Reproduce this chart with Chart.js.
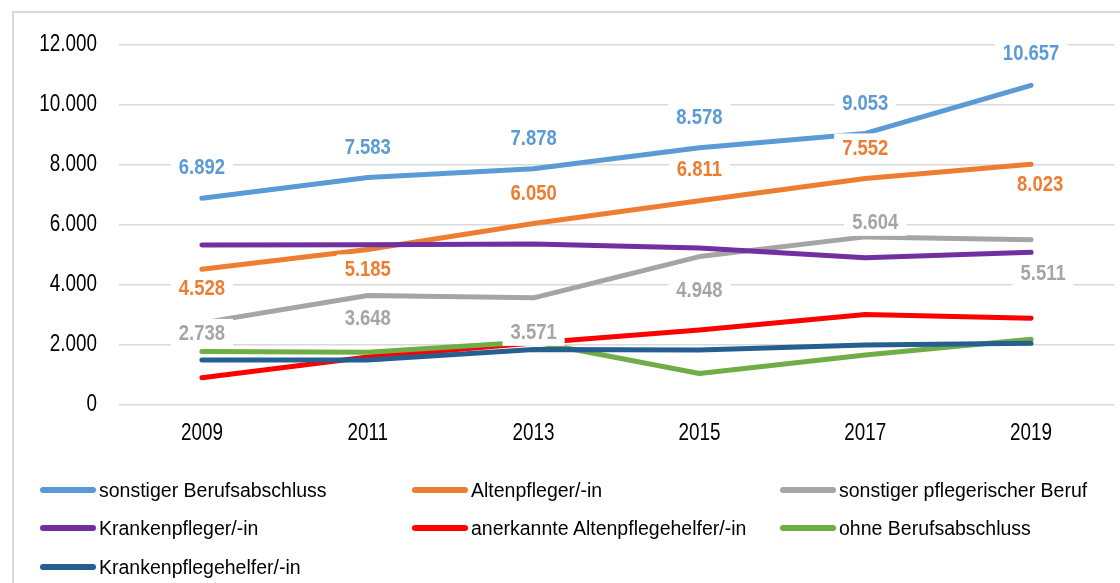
<!DOCTYPE html>
<html>
<head>
<meta charset="utf-8">
<script src="https://cdn.jsdelivr.net/npm/chart.js@4/dist/chart.umd.min.js"></script>
<style>
  body { margin: 0; background: #fff; }
  #wrap { position: relative; width: 1120px; height: 583px; overflow: hidden; }
  #frame { position: absolute; left: 12px; top: 11px; width: 1200px; height: 700px; border: 2px solid #d9d9d9; box-sizing: border-box; }
  canvas { position: absolute; left: 0; top: 0; }
  #legend { position: absolute; left: 0; top: 0; width: 1120px; height: 583px; pointer-events: none;
            font-family: 'Liberation Sans', Arial, sans-serif; font-size: 19.5px; color: #000; }
  .item { position: absolute; display: flex; align-items: center; height: 30px; white-space: nowrap; }
  .sw { width: 56px; height: 6px; border-radius: 3px; margin-right: 3px; }
</style>
</head>
<body>
<div id="wrap">
  <div id="frame"></div>
  <canvas id="lineChart" width="1120" height="583"></canvas>
  <div id="legend"></div>
</div>
<script>
var years = ['2009', '2011', '2013', '2015', '2017', '2019'];
var sonstigerBerufsabschluss = [6892, 7583, 7878, 8578, 9053, 10657];
var altenpfleger = [4528, 5185, 6050, 6811, 7552, 8023];
var sonstigerPflegerischerBeruf = [2738, 3648, 3571, 4948, 5604, 5511];
var krankenpfleger = [5330, 5340, 5370, 5230, 4910, 5090];
var anerkannteAltenpflegehelfer = [910, 1600, 2070, 2500, 3020, 2890];
var ohneBerufsabschluss = [1780, 1760, 2110, 1050, 1670, 2190];
var krankenpflegehelfer = [1500, 1500, 1850, 1830, 2000, 2060];

var fontFam = "'Liberation Sans', Arial, sans-serif";
var squeeze = 0.82; // fake a narrow face, no Arial Narrow here

function deNum(v) {
    return String(v).replace(/\B(?=(\d{3})+(?!\d))/g, '.');
}

function narrowText(ctx, txt, x, y, align) {
    ctx.save();
    ctx.translate(x, y);
    ctx.scale(squeeze, 1);
    ctx.textAlign = align;
    ctx.textBaseline = 'middle';
    ctx.fillText(txt, 0, 0);
    ctx.restore();
}

function series(label, data, color, labels) {
    var ds = {
        label: label,
        data: data,
        borderColor: color,
        backgroundColor: color,
        borderWidth: 5,
        borderCapStyle: 'round',
        borderJoinStyle: 'round',
        pointRadius: 0,
        fill: false,
        tension: 0
    };
    if (labels) ds.valueLabels = labels;
    return ds;
}

var datasets = [
    series('sonstiger Berufsabschluss', sonstigerBerufsabschluss, '#5b9bd5',
        { dy: [-31, -31, -31, -31, -31, -32], dx: [0, 0, 0, 0, 0, 0] }),
    series('Altenpfleger/-in', altenpfleger, '#ed7d31',
        { dy: [19, 19, -31, -32, -31, 19], dx: [0, 0, 0, 0, 0, 9] }),
    series('sonstiger pflegerischer Beruf', sonstigerPflegerischerBeruf, '#a5a5a5',
        { dy: [10, 22, 34, 33, -15, 33], dx: [0, 0, 0, 0, 10, 12] }),
    series('Krankenpfleger/-in', krankenpfleger, '#7030a0'),
    series('anerkannte Altenpflegehelfer/-in', anerkannteAltenpflegehelfer, '#ff0000'),
    series('ohne Berufsabschluss', ohneBerufsabschluss, '#70ad47'),
    series('Krankenpflegehelfer/-in', krankenpflegehelfer, '#255e91')
];
// later series on top, like the original
datasets.forEach(function (d, i) { d.order = datasets.length - i; });

// axis tick text, squeezed
var tickTextPlugin = {
    id: 'tickText',
    afterDraw: function (chart) {
        var ctx = chart.ctx;
        var xs = chart.scales.x, ys = chart.scales.y;
        ctx.save();
        ctx.fillStyle = '#000';
        ctx.font = '23px ' + fontFam;
        ys.ticks.forEach(function (t, i) {
            narrowText(ctx, deNum(t.value), 97, ys.getPixelForTick(i), 'right');
        });
        xs.ticks.forEach(function (t, i) {
            narrowText(ctx, years[i], xs.getPixelForTick(i), 434, 'center');
        });
        ctx.restore();
    }
};

var valueLabelPlugin = {
    id: 'valueLabels',
    afterDatasetsDraw: function (chart) {
        var ctx = chart.ctx;
        ctx.save();
        ctx.font = 'bold 22.5px ' + fontFam;
        chart.data.datasets.forEach(function (ds, di) {
            if (!ds.valueLabels) return;
            var meta = chart.getDatasetMeta(di);
            meta.data.forEach(function (pt, i) {
                var txt = deNum(ds.data[i]);
                var x = pt.x + ds.valueLabels.dx[i];
                var y = pt.y + ds.valueLabels.dy[i];
                var w = ctx.measureText(txt).width * squeeze + 16;
                ctx.fillStyle = '#ffffff';
                ctx.fillRect(x - w / 2, y - 14, w, 28);
                ctx.fillStyle = ds.borderColor;
                narrowText(ctx, txt, x, y + 1, 'center');
            });
        });
        ctx.restore();
    }
};

var ctx1 = document.getElementById('lineChart').getContext('2d');
var lineChart = new Chart(ctx1, {
    type: 'line',
    data: {
        labels: years,
        datasets: datasets
    },
    options: {
        responsive: false,
        animation: false,
        devicePixelRatio: 1,
        layout: { padding: { left: 0, top: 45, right: 6, bottom: 118 } },
        plugins: {
            legend: { display: false },
            tooltip: { enabled: false }
        },
        scales: {
            x: {
                offset: true,
                grid: { display: false, drawTicks: false },
                border: { display: false },
                ticks: { display: false },
                afterFit: function (s) { s.height = 60; }
            },
            y: {
                min: 0,
                max: 12000,
                ticks: { stepSize: 2000, display: false },
                grid: { color: '#d9d9d9', lineWidth: 1.5, drawTicks: false },
                border: { display: false },
                afterFit: function (s) { s.width = 119; }
            }
        }
    },
    plugins: [valueLabelPlugin, tickTextPlugin]
});

// legend in three columns below the plot
var legendEl = document.getElementById('legend');
var colLeft = [40, 412, 780];
var rowTop = [475, 513, 552];
datasets.forEach(function (d, i) {
    var item = document.createElement('div');
    item.className = 'item';
    item.style.left = colLeft[i % 3] + 'px';
    item.style.top = rowTop[Math.floor(i / 3)] + 'px';
    var sw = document.createElement('div');
    sw.className = 'sw';
    sw.style.background = d.borderColor;
    item.appendChild(sw);
    item.appendChild(document.createTextNode(d.label));
    legendEl.appendChild(item);
});
</script>
</body>
</html>
